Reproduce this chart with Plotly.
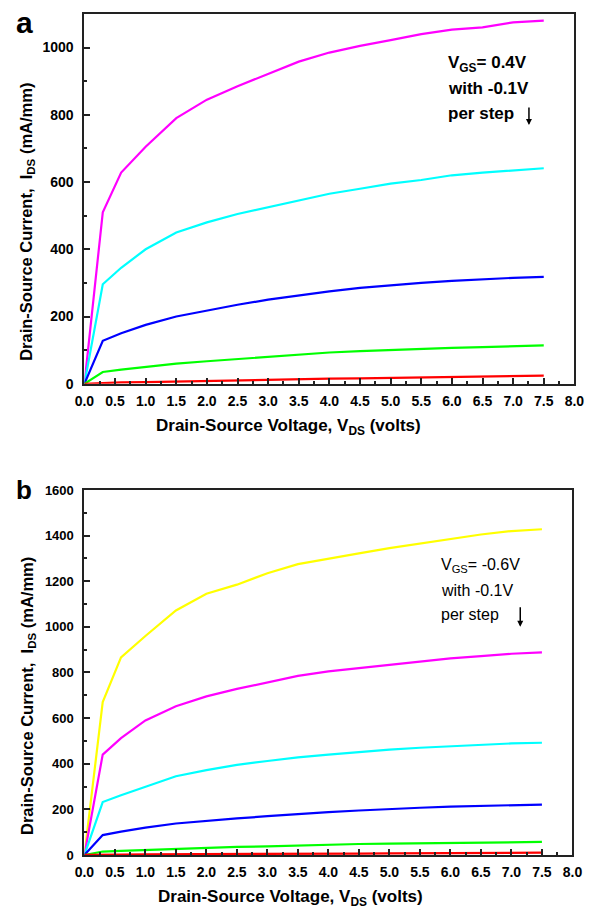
import plotly.graph_objects as go

vds = [0, 0.3, 0.6, 1.0, 1.5, 2.0, 2.5, 3.0, 3.5, 4.0, 4.5, 5.0, 5.5, 6.0, 6.5, 7.0, 7.5]

# Panel a: VGS = 0.4 V down in -0.1 V steps
a_magenta = [0, 510, 628, 705, 790, 845, 885, 922, 958, 985, 1005, 1022, 1040, 1053, 1060, 1075, 1080]
a_cyan = [0, 296, 345, 400, 450, 480, 505, 525, 545, 565, 580, 595, 606, 620, 628, 635, 641]
a_blue = [0, 128, 150, 175, 200, 218, 235, 250, 263, 275, 285, 293, 300, 306, 311, 315, 318]
a_green = [0, 35, 42, 50, 60, 67, 74, 81, 88, 93, 97, 101, 104, 107, 109, 112, 114]
a_red = [0, 3, 4, 5, 7, 8, 10, 12, 13, 15, 16, 17, 19, 20, 22, 23, 24]

# Panel b: VGS = -0.6 V down in -0.1 V steps
b_yellow = [0, 670, 866, 960, 1072, 1145, 1185, 1235, 1275, 1300, 1322, 1345, 1365, 1385, 1405, 1420, 1428]
b_magenta = [0, 440, 512, 590, 652, 695, 728, 758, 785, 805, 820, 835, 850, 862, 872, 882, 888]
b_cyan = [0, 232, 262, 300, 345, 372, 395, 412, 428, 440, 452, 462, 470, 477, 483, 489, 492]
b_blue = [0, 87, 102, 120, 138, 150, 160, 170, 180, 188, 195, 202, 207, 212, 216, 219, 221]
b_green = [0, 15, 18, 22, 27, 32, 35, 38, 42, 45, 48, 50, 52, 54, 55, 56, 57]
b_red = [0, 2, 2, 3, 3, 4, 4, 5, 5, 6, 6, 7, 7, 8, 8, 9, 10]

a_series = [(a_magenta, "#FF00FF"), (a_cyan, "#00FFFF"), (a_blue, "#0000FF"),
            (a_green, "#00FF00"), (a_red, "#FF0000")]
b_series = [(b_yellow, "#FFFF00"), (b_magenta, "#FF00FF"), (b_cyan, "#00FFFF"),
            (b_blue, "#0000FF"), (b_green, "#00FF00"), (b_red, "#FF0000")]

W, H = 595, 921
def px(x): return x / W
def py(y): return 1 - y / H

fig = go.Figure()
for ys, c in a_series:
    fig.add_trace(go.Scatter(x=vds, y=ys, mode="lines", line=dict(color=c, width=2.2),
                             xaxis="x", yaxis="y", showlegend=False))
for ys, c in b_series:
    fig.add_trace(go.Scatter(x=vds, y=ys, mode="lines", line=dict(color=c, width=2.2),
                             xaxis="x2", yaxis="y2", showlegend=False))

FONT = "Liberation Sans"
tickfont = dict(family=FONT, size=14, color="black", weight="bold")

def xaxis(anchor, dom):
    return dict(domain=dom, anchor=anchor, range=[0, 8], dtick=0.5, tick0=0, tickformat=".1f",
                showline=True, linecolor="#222", linewidth=2, mirror=True,
                ticks="inside", ticklen=6, tickwidth=1.5, tickcolor="#222",
                minor=dict(ticks="inside", ticklen=3, dtick=0.25, tickcolor="#222", tickwidth=1.5),
                showgrid=False, zeroline=False, tickfont=tickfont, ticklabelstandoff=3)

def yaxis(anchor, dom, rng, fs):
    return dict(domain=dom, anchor=anchor, range=rng, dtick=200, tick0=0,
                showline=True, linecolor="#222", linewidth=2, mirror=True,
                ticks="inside", ticklen=6, tickwidth=1.5, tickcolor="#222",
                minor=dict(ticks="inside", ticklen=3, dtick=100, tickcolor="#222", tickwidth=1.5),
                showgrid=False, zeroline=False,
                tickfont=dict(family=FONT, size=fs, color="black", weight="bold"),
                ticklabelstandoff=6)

fig.update_layout(
    width=W, height=H, margin=dict(l=0, r=0, t=0, b=0),
    paper_bgcolor="white", plot_bgcolor="white",
    xaxis=xaxis("y", [px(77), px(584)]),
    yaxis=yaxis("x", [py(383), py(7)], [0, 1100], 14),
    xaxis2=xaxis("y2", [px(77), px(582)]),
    yaxis2=yaxis("x2", [py(862), py(491)], [0, 1600], 13),
)

ann = []
def text(x, y, t, size, bold=True, angle=0, xanchor="center"):
    ann.append(dict(x=px(x), y=py(y), xref="paper", yref="paper", text=t, showarrow=False,
                    textangle=angle, xanchor=xanchor, yanchor="middle",
                    font=dict(family=FONT, size=size, color="black", weight="bold" if bold else "normal")))

text(15, 16, "a", 30)
text(15, 491, "b", 26)
text(18, 218, "Drain-Source Current,  I<sub>DS</sub> (mA/mm)", 16.5, angle=-90)
text(18, 700, "Drain-Source Current,  I<sub>DS</sub> (mA/mm)", 16.5, angle=-90)
text(288, 427, "Drain-Source Voltage, V<sub>DS</sub> (volts)", 17)
text(290, 906, "Drain-Source Voltage, V<sub>DS</sub> (volts)", 17)

text(451, 58, "V<sub>GS</sub>= 0.4V", 17, xanchor="left")
text(451, 83, "with -0.1V", 17, xanchor="left")
text(451, 108, "per step", 17, xanchor="left")
text(444, 568, "V<sub>GS</sub>= -0.6V", 16, bold=False, xanchor="left")
text(444, 593, "with -0.1V", 16, bold=False, xanchor="left")
text(444, 618, "per step", 16, bold=False, xanchor="left")

for (x, y0, y1) in [(537, 101, 120), (528, 609, 630)]:
    ann.append(dict(x=px(x), y=py(y1), ax=0, ay=-(y1 - y0), xref="paper", yref="paper",
                    axref="pixel", ayref="pixel", text="", showarrow=True,
                    arrowhead=2, arrowsize=0.8, arrowwidth=1.5, arrowcolor="black"))

fig.update_layout(annotations=ann)
fig.write_html("out.html")
